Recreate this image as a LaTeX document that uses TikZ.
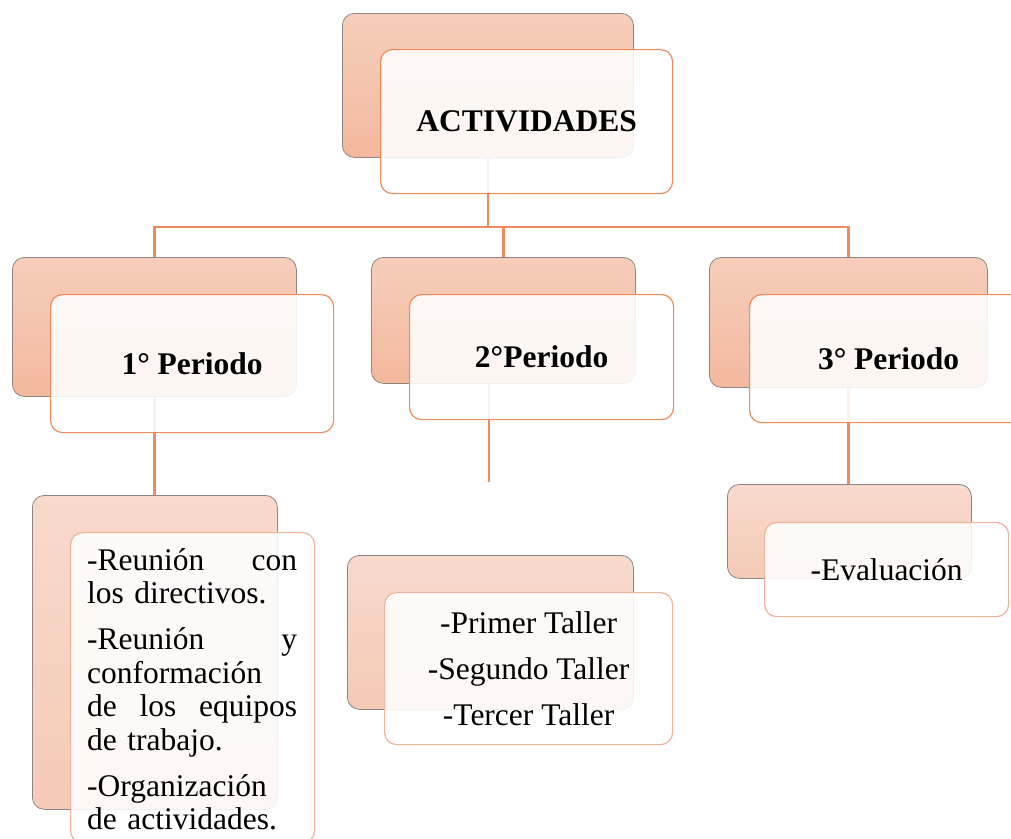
\documentclass[tikz,border=0pt]{standalone}
\usepackage{fontspec}
\setmainfont{Liberation Serif}
\definecolor{bktop}{HTML}{F6CEBB}
\definecolor{bkbot}{HTML}{F4B89E}
\definecolor{lttop}{HTML}{F7DACD}
\definecolor{ltbot}{HTML}{F5CAB6}
\definecolor{bkline}{HTML}{8F8681}
\definecolor{frline}{HTML}{F08C5C}
\definecolor{frlight}{HTML}{F3B39A}
\definecolor{connc}{HTML}{F08C5C}
\newcommand\myjline[1]{\leavevmode\hbox to 210pt{#1}}
\tikzset{
  backbox/.style={draw=bkline, line width=0.8pt, rounded corners=12pt, top color=bktop, bottom color=bkbot, inner sep=0pt, anchor=north west},
  backlight/.style={backbox, top color=lttop, bottom color=ltbot},
  frontbox/.style={draw=frline, line width=1.2pt, rounded corners=12pt, fill=white, fill opacity=0.88, text opacity=1, inner sep=0pt, anchor=north west},
  frontlight/.style={frontbox, draw=frlight},
  conn/.style={draw=connc, line width=2.2pt},
  head/.style={font=\fontsize{31.5}{36}\selectfont\bfseries},
  body/.style={font=\fontsize{31.5}{46}\selectfont},
}
\begin{document}
\begin{tikzpicture}
\useasboundingbox (0pt,0pt) rectangle (1011pt,-838pt);
\clip (0pt,0pt) rectangle (1011pt,-838pt);
% back boxes
\node[backbox, minimum width=291pt, minimum height=144pt] (a0b) at (342pt,-13pt) {};
\node[backbox, minimum width=284pt, minimum height=139pt] (b1b) at (12pt,-257pt) {};
\node[backbox, minimum width=264pt, minimum height=126pt] (b2b) at (371pt,-257pt) {};
\node[backbox, minimum width=278pt, minimum height=130pt] (b3b) at (709pt,-257pt) {};
\node[backlight, minimum width=245pt, minimum height=314pt] (c1b) at (32pt,-495pt) {};
\node[backlight, minimum width=286pt, minimum height=154pt] (c2b) at (347pt,-555pt) {};
\node[backlight, minimum width=244pt, minimum height=94pt] (c3b) at (727pt,-484pt) {};
% connectors
\coordinate (hub) at (a0b.south |- 0pt,-227pt);
\draw[conn] (a0b.south) -- (hub);
\draw[conn] (b1b.north) |- (hub) -| (b3b.north);
\draw[conn] (b2b.north) -- (b2b.north |- hub);
\draw[conn] (b1b.south) -- (b1b.south |- c1b.north);
\draw[conn] (b3b.south) -- (b3b.south |- c3b.north);
\coordinate (b2end) at (489pt,-482pt);
\draw[conn] (b2end |- b2b.south) -- (b2end);
% front boxes
\node[frontbox, minimum width=292pt, minimum height=144pt, head] (a0) at (380pt,-49pt) {ACTIVIDADES};
\node[frontbox, minimum width=283pt, minimum height=138pt, head] (b1) at (50pt,-294pt) {1° Periodo};
\node[frontbox, minimum width=264pt, minimum height=125pt, head] (b2) at (409pt,-294pt) {2°Periodo};
\node[frontbox, minimum width=278pt, minimum height=128pt, head] (b3) at (749pt,-294pt) {3° Periodo};
\node[frontlight, minimum width=244pt, minimum height=310pt] (c1) at (70pt,-532pt) {};
\node[frontlight, minimum width=288pt, minimum height=152pt, body, align=center] (c2) at (384pt,-592pt) {-Primer Taller\\-Segundo Taller\\-Tercer Taller};
\node[frontlight, minimum width=244pt, minimum height=94pt, body] (c3) at (764pt,-522pt) {-Evaluación};
% text of first list
\node[anchor=north west, inner sep=0pt, text width=210pt, font=\fontsize{31.5}{33.5}\selectfont] (c1t) at (87pt,-548pt)
  {\myjline{-Reunión\hfill con}\\
   los directivos.\\[12.5pt]
   \myjline{-Reunión\hfill y}\\
   conformación\\
   \myjline{de\hfill los\hfill equipos}\\
   de trabajo.\\[12.5pt]
   -Organización\\
   de actividades.};
\end{tikzpicture}
\end{document}
